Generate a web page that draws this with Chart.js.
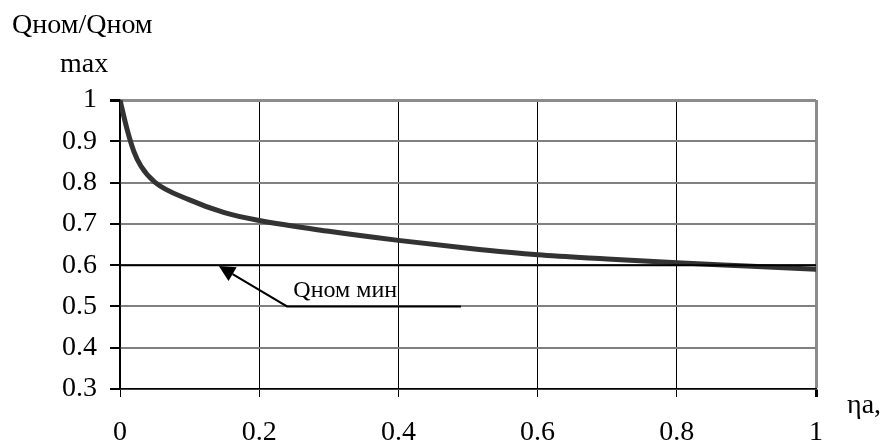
<!DOCTYPE html>
<html>
<head>
<meta charset="utf-8">
<script src="https://cdn.jsdelivr.net/npm/chart.js@4.4.1/dist/chart.umd.min.js"></script>
<style>
  html, body { margin: 0; padding: 0; background: #fff; }
  #wrap { width: 887px; height: 446px; }
</style>
</head>
<body>
<div id="wrap"><canvas id="graph" width="887" height="446"></canvas></div>
<script>
// curve Qном/Qном max against ηa
const etaValues = [0, 0.01, 0.02, 0.03, 0.05, 0.1, 0.15, 0.2, 0.3, 0.4, 0.5, 0.6, 0.7, 0.8, 0.9, 1];
const qValues = [1, 0.93, 0.875, 0.84, 0.801, 0.758, 0.727, 0.708, 0.682, 0.66, 0.641, 0.625, 0.615, 0.606, 0.598, 0.59];
// Qном мин level
const qMinEta = [0, 1];
const qMinValues = [0.6, 0.6];
const xTickLabels = ["0", "0.2", "0.4", "0.6", "0.8", "1"];
const yTickLabels = ["0.3", "0.4", "0.5", "0.6", "0.7", "0.8", "0.9", "1"];

const FONT = "'Liberation Serif', 'Times New Roman', serif";

const ctx = document.getElementById("graph");

const extraText = {
  id: "extraText",
  afterDraw(chart) {
    const c = chart.ctx;
    const xs = chart.scales.x;
    const ys = chart.scales.y;
    c.save();
    c.fillStyle = "#000";
    c.font = "28px " + FONT;
    c.textAlign = "left";
    c.textBaseline = "alphabetic";
    c.fillText("Qном/Qном", 12, 33);
    c.fillText("max", 60, 72);
    c.fillText("ηa,", 847, 413);

    // label line + arrow
    const lx0 = xs.getPixelForValue(0.24), lx1 = xs.getPixelForValue(0.49);
    const ly = ys.getPixelForValue(0.5);
    c.strokeStyle = "#000";
    c.lineWidth = 2;
    c.beginPath();
    c.moveTo(lx1, ly);
    c.lineTo(lx0, ly);
    const tipX = xs.getPixelForValue(0.142), tipY = ys.getPixelForValue(0.598);
    const ang = Math.atan2(tipY - ly, tipX - lx0);
    const back = 16;
    const bx = tipX - back * Math.cos(ang), by = tipY - back * Math.sin(ang);
    c.lineTo(bx, by);
    c.stroke();
    c.beginPath();
    c.moveTo(tipX, tipY);
    c.lineTo(bx + 8 * Math.sin(ang), by - 8 * Math.cos(ang));
    c.lineTo(bx - 8 * Math.sin(ang), by + 8 * Math.cos(ang));
    c.closePath();
    c.fill();

    c.font = "24px " + FONT;
    c.fillText("Qном мин", xs.getPixelForValue(0.249), ly - 9);
    c.restore();
  },
};

const chart = new Chart(ctx, {
  type: "line",
  data: {
    datasets: [
      {
        label: "Qном мин",
        data: qMinEta.map((x, i) => ({ x: x, y: qMinValues[i] })),
        borderColor: "#000",
        borderWidth: 2,
        pointRadius: 0,
        order: 0,
      },
      {
        label: "Qном/Qном max",
        data: etaValues.map((x, i) => ({ x: x, y: qValues[i] })),
        borderColor: "#333",
        borderWidth: 5,
        pointRadius: 0,
        cubicInterpolationMode: "monotone",
        order: 1,
      },
    ],
  },
  options: {
    responsive: false,
    animation: false,
    layout: {
      padding: { left: 0, right: 71, top: 100, bottom: 0 },
    },
    plugins: {
      legend: { display: false },
      tooltip: { enabled: false },
    },
    scales: {
      x: {
        type: "linear",
        min: 0,
        max: 1,
        afterFit: (s) => { s.height = 57; },
        afterBuildTicks: (s) => { s.ticks = xTickLabels.map((t) => ({ value: parseFloat(t) })); },
        ticks: {
          callback: (v, i) => xTickLabels[i],
          color: "#000",
          font: { family: FONT, size: 28 },
          padding: 19,
          maxRotation: 0,
        },
        grid: {
          color: (c) => (c.tick && c.tick.value === 1 ? "#8c8c8c" : "#000"),
          lineWidth: (c) => (c.tick && c.tick.value === 1 ? 3 : 1),
          tickColor: "#000",
          tickLength: 8,
        },
        border: { color: "#000", width: 1.5 },
      },
      y: {
        type: "linear",
        min: 0.3,
        max: 1,
        afterFit: (s) => { s.width = 120; },
        afterBuildTicks: (s) => { s.ticks = yTickLabels.map((t) => ({ value: parseFloat(t) })); },
        ticks: {
          callback: (v, i) => yTickLabels[i],
          color: "#000",
          font: { family: FONT, size: 28 },
          padding: 13,
        },
        grid: {
          color: (c) => (c.tick && c.tick.value === 1 ? "#8c8c8c" : "#808080"),
          lineWidth: (c) => (c.tick && c.tick.value === 1 ? 3 : 2),
          tickColor: "#000",
          tickLength: 10,
        },
        border: { color: "#000", width: 1.5 },
      },
    },
  },
  plugins: [extraText],
});
</script>
</body>
</html>
